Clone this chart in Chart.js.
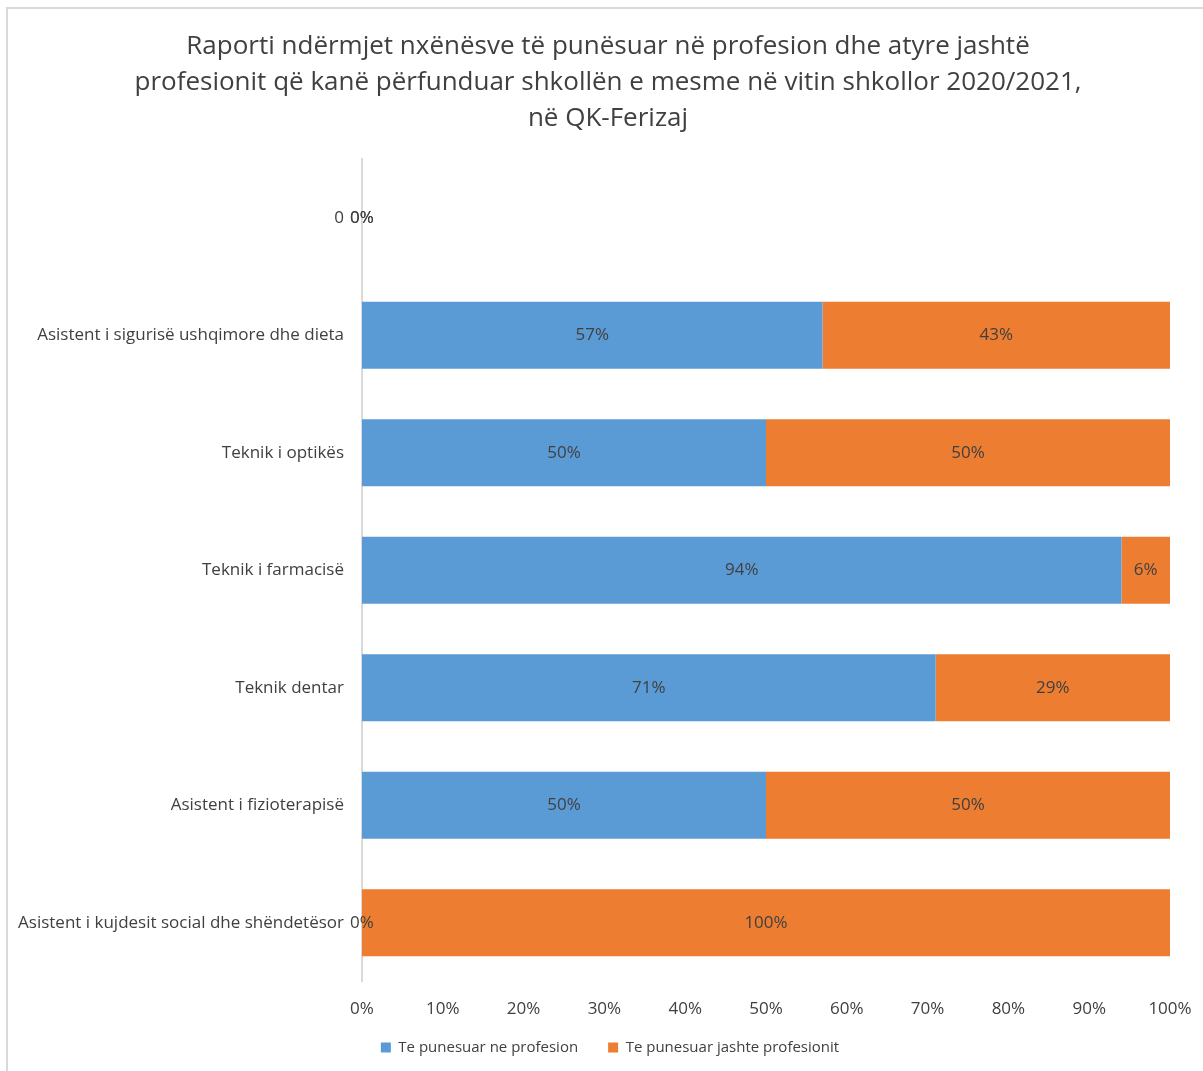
<!DOCTYPE html>
<html>
<head>
<meta charset="utf-8">
<script src="https://cdn.jsdelivr.net/npm/chart.js@4.4.1/dist/chart.umd.min.js"></script>
<style>
  body { margin: 0; background: #fff; }
  #wrap { position: absolute; left: 0; top: 0; width: 1203px; height: 1071px; }
  #frame { position: absolute; left: 6px; top: 7px; width: 1300px; height: 1200px;
           border-left: 2px solid #d9d9d9; border-top: 2px solid #d9d9d9; pointer-events: none; }
</style>
</head>
<body>
<div id="wrap"><canvas id="chart"></canvas></div>
<div id="frame"></div>
<script>
// Categories, top to bottom
const categories = [
    "0",
    "Asistent i sigurisë ushqimore dhe dieta",
    "Teknik i optikës",
    "Teknik i farmacisë",
    "Teknik dentar",
    "Asistent i fizioterapisë",
    "Asistent i kujdesit social dhe shëndetësor"
];

// Percent values per series
const inProfession = [0, 57, 50, 94, 71, 50, 0];
const outsideProfession = [0, 43, 50, 6, 29, 50, 100];

const xTicks = [0, 10, 20, 30, 40, 50, 60, 70, 80, 90, 100];

const textColor = "#404040";
const fontFamily = "'Open Sans', sans-serif";

// Draw value labels in the middle of each segment
const barLabels = {
    id: "barLabels",
    afterDatasetsDraw(chart) {
        const ctx = chart.ctx;
        ctx.save();
        ctx.font = "17px " + fontFamily;
        ctx.fillStyle = textColor;
        ctx.textAlign = "center";
        ctx.textBaseline = "middle";
        chart.data.datasets.forEach((ds, i) => {
            chart.getDatasetMeta(i).data.forEach((bar, j) => {
                const cx = (bar.x + bar.base) / 2;
                ctx.fillText(ds.data[j] + "%", cx, bar.y);
            });
        });
        ctx.restore();
    }
};

// Title and legend are centred on the whole chart box, not just the padded area;
// legend sits a little tighter under the axis
const placeBoxes = {
    id: "placeBoxes",
    afterLayout(chart) {
        if (chart.titleBlock) {
            chart.titleBlock.left += 16;
            chart.titleBlock.right += 16;
        }
        if (chart.legend) {
            chart.legend.left += 18;
            chart.legend.right += 18;
            chart.legend.top -= 18;
            chart.legend.bottom -= 18;
        }
    }
};

new Chart(document.getElementById("chart"), {
    type: "bar",
    data: {
        labels: categories,
        datasets: [
            {
                label: "Te punesuar ne profesion",
                data: inProfession,
                backgroundColor: "#5B9BD5",
                barPercentage: 0.57,
                categoryPercentage: 1
            },
            {
                label: "Te punesuar jashte profesionit",
                data: outsideProfession,
                backgroundColor: "#ED7D31",
                barPercentage: 0.57,
                categoryPercentage: 1
            }
        ]
    },
    options: {
        indexAxis: "y",
        responsive: true,
        maintainAspectRatio: false,
        animation: false,
        layout: { padding: { left: 14, right: 33, top: 0, bottom: -12 } },
        plugins: {
            title: {
                display: true,
                text: [
                    "Raporti ndërmjet nxënësve të punësuar në profesion dhe atyre jashtë",
                    "profesionit që kanë përfunduar shkollën e mesme në vitin shkollor 2020/2021,",
                    "në QK-Ferizaj"
                ],
                color: textColor,
                font: { family: fontFamily, size: 26, weight: "normal", lineHeight: 1.385 },
                padding: { top: 29, bottom: 22 }
            },
            legend: {
                position: "bottom",
                labels: {
                    color: textColor,
                    font: { family: fontFamily, size: 15 },
                    boxWidth: 10,
                    boxHeight: 10,
                    padding: 30
                }
            },
            tooltip: { enabled: false }
        },
        scales: {
            x: {
                stacked: true,
                min: 0,
                max: 100,
                afterBuildTicks(scale) {
                    scale.ticks = xTicks.map(v => ({ value: v }));
                },
                ticks: {
                    color: textColor,
                    font: { family: fontFamily, size: 17 },
                    padding: 9,
                    callback: v => v + "%"
                },
                grid: { display: false },
                border: { display: false }
            },
            y: {
                stacked: true,
                afterFit(scale) { scale.width = 348; },
                ticks: {
                    color: textColor,
                    font: { family: fontFamily, size: 17 },
                    padding: 10
                },
                grid: { display: false },
                border: { display: true, color: "#d9d9d9", width: 2 }
            }
        }
    },
    plugins: [barLabels, placeBoxes]
});
</script>
</body>
</html>
